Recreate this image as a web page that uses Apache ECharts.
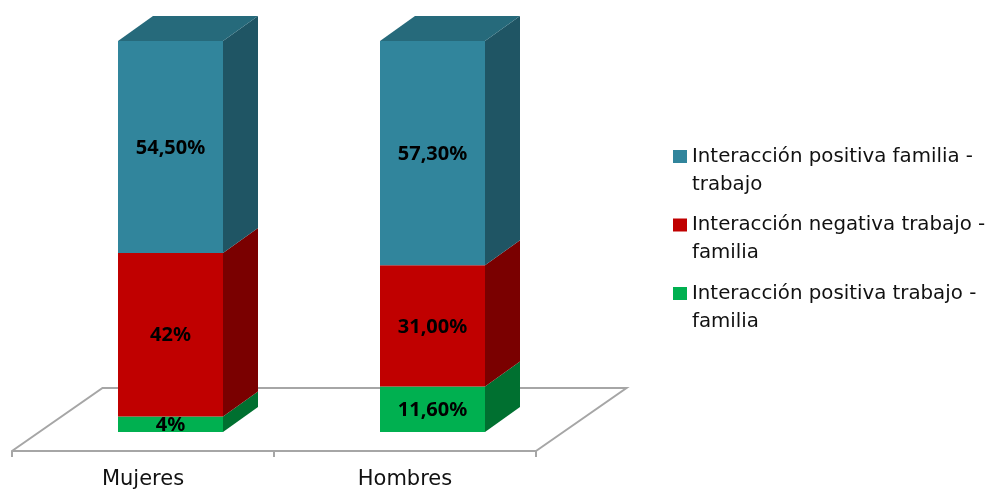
<!DOCTYPE html>
<html><head><meta charset="utf-8">
<style>html,body{margin:0;padding:0;background:#fff}#c{width:987px;height:491px}</style>
<script src="https://cdn.jsdelivr.net/npm/echarts@6/dist/echarts.min.js"></script>
</head><body><div id="c"></div>
<script>
const categories = ['Mujeres', 'Hombres'];
const seriesNames = ['Interacción positiva trabajo -\nfamilia', 'Interacción negativa trabajo -\nfamilia', 'Interacción positiva familia -\ntrabajo'];
const verdeValues = [4, 11.6];
const rojoValues = [42, 31];
const azulValues = [54.5, 57.3];
const verdeLabels = ['4%', '11,60%'];
const rojoLabels = ['42%', '31,00%'];
const azulLabels = ['54,50%', '57,30%'];

const rawValues = [verdeValues, rojoValues, azulValues];
const labels = [verdeLabels, rojoLabels, azulLabels];
const front = ['#00B050', '#C00000', '#31859C'];
const side = ['#007030', '#7A0000', '#1F5564'];
const topFace = '#266A7B';
const floorColor = '#A6A6A6';
const DEPTH = [35, -25];
const FLOOR_DEPTH = [90.5, -63];
const BAR_FRACTION = 105 / 262;

// The chart is 100% stacked: each column is normalised to its own total.
const totals = categories.map((_, i) => rawValues.reduce((s, v) => s + v[i], 0));
const shares = rawValues.map(v => v.map((x, i) => x / totals[i] * 100));

function sideItem(k) {
  return function (params, api) {
    const i = api.value(0), lo = api.value(1), hi = api.value(2);
    const w = api.size([1, 0])[0] * BAR_FRACTION;
    const a = api.coord([i, lo]), b = api.coord([i, hi]);
    const xr = a[0] + w / 2, xl = a[0] - w / 2;
    const children = [{
      type: 'polygon',
      shape: { points: [[xr, a[1]], [xr + DEPTH[0], a[1] + DEPTH[1]], [xr + DEPTH[0], b[1] + DEPTH[1]], [xr, b[1]]] },
      style: { fill: side[k] }
    }];
    if (k === rawValues.length - 1) {
      children.push({
        type: 'polygon',
        shape: { points: [[xl, b[1]], [xl + DEPTH[0], b[1] + DEPTH[1]], [xr + DEPTH[0], b[1] + DEPTH[1]], [xr, b[1]]] },
        style: { fill: topFace }
      });
    }
    return { type: 'group', children };
  };
}

const series = [{
  type: 'custom', name: 'suelo', xAxisIndex: 0, yAxisIndex: 0, silent: true, z: 1, clip: false,
  data: [[0]],
  renderItem: function (params) {
    const c = params.coordSys, y = c.y + c.height;
    return {
      type: 'polyline',
      shape: { points: [[c.x, y], [c.x + FLOOR_DEPTH[0], y + FLOOR_DEPTH[1]], [c.x + c.width + FLOOR_DEPTH[0], y + FLOOR_DEPTH[1]], [c.x + c.width, y]] },
      style: { fill: null, stroke: floorColor, lineWidth: 2 }
    };
  }
}];

shares.forEach((vals, k) => {
  const base = vals.map((_, i) => shares.slice(0, k).reduce((s, v) => s + v[i], 0));
  series.push({
    type: 'custom', name: 'lado' + k, xAxisIndex: 1, yAxisIndex: 1, silent: true, z: 2, clip: false,
    data: vals.map((v, i) => [i, base[i], base[i] + v]),
    encode: { x: 0, y: [1, 2] },
    renderItem: sideItem(k)
  });
  series.push({
    type: 'bar', name: seriesNames[k], stack: 'total', xAxisIndex: 1, yAxisIndex: 1, z: 3,
    barWidth: 105, data: vals, silent: true,
    itemStyle: { color: front[k] },
    label: {
      show: true, position: 'inside', offset: [0, 1], color: '#000', fontFamily: 'Noto Sans', fontWeight: 'bold', fontSize: 20,
      formatter: p => labels[k][p.dataIndex]
    }
  });
});

const chart = echarts.init(document.getElementById('c'), null, { renderer: 'canvas' });
chart.setOption({
  animation: false,
  backgroundColor: '#fff',
  grid: [
    { left: 12, width: 524, top: 41, height: 410, containLabel: false },
    { left: 39.5, width: 524, top: 41, height: 391, containLabel: false }
  ],
  xAxis: [
    { type: 'category', gridIndex: 0, data: categories,
      axisLine: { lineStyle: { color: floorColor, width: 2 } },
      axisTick: { show: true, alignWithLabel: false, length: 6, lineStyle: { color: floorColor, width: 2 } },
      axisLabel: { color: '#111', fontFamily: 'DejaVu Sans', fontSize: 21, margin: 18 } },
    { type: 'category', gridIndex: 1, data: categories, show: false }
  ],
  yAxis: [
    { type: 'value', gridIndex: 0, min: 0, max: 100, show: false, splitLine: { show: false } },
    { type: 'value', gridIndex: 1, min: 0, max: 100, show: false, splitLine: { show: false } }
  ],
  legend: {
    orient: 'vertical', left: 668, top: 109.5,
    data: [seriesNames[2], seriesNames[1], seriesNames[0]],
    formatter: name => '\n' + name,
    itemWidth: 14, itemHeight: 13, itemGap: -15.5, icon: 'rect', selectedMode: false,
    textStyle: { color: '#111', fontFamily: 'DejaVu Sans', fontSize: 19.8, lineHeight: 28 }
  },
  series
});
</script></body></html>
